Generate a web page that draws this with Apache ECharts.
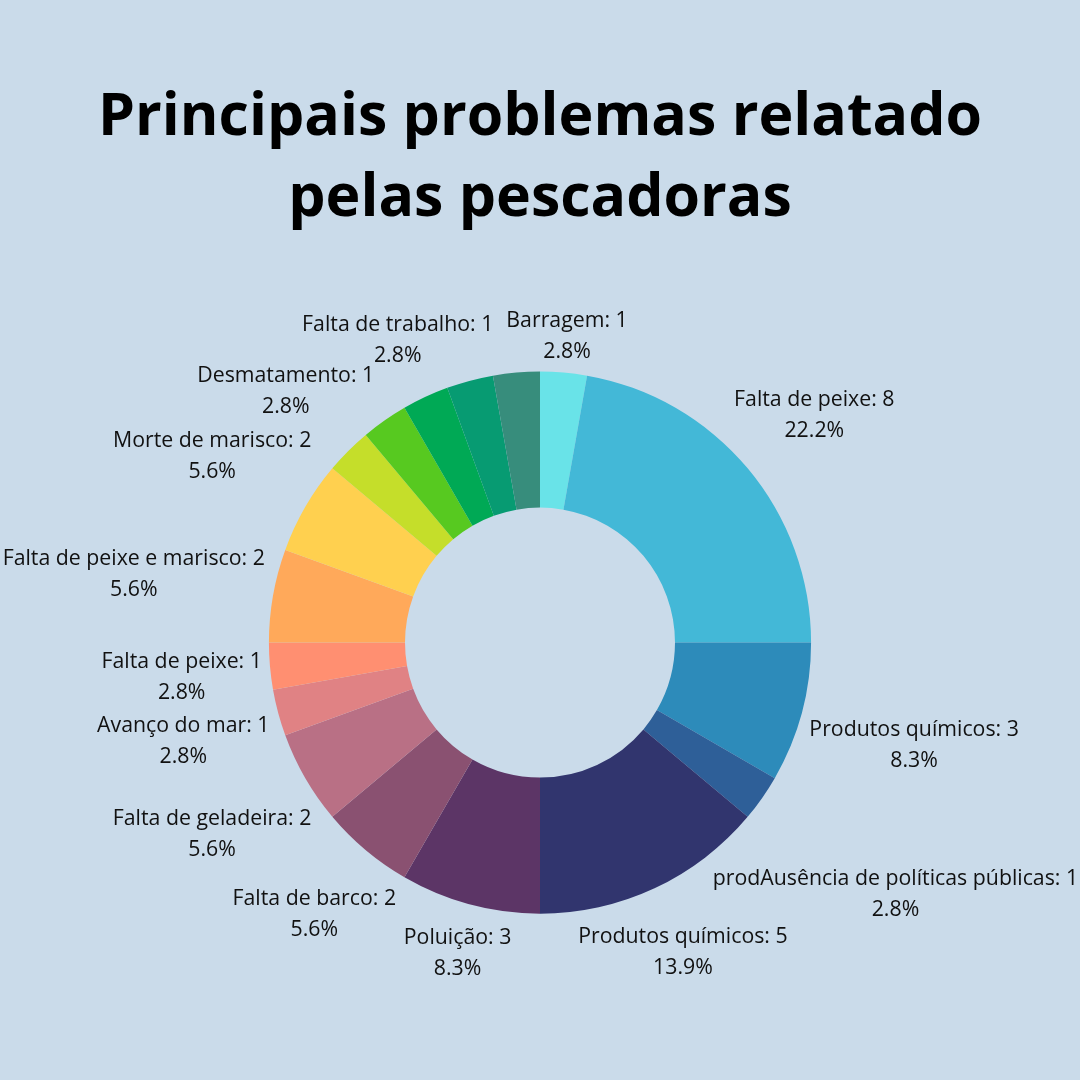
<!DOCTYPE html>
<html><head><meta charset="utf-8">
<script src="https://cdn.jsdelivr.net/npm/echarts@6/dist/echarts.min.js"></script>
<style>html,body{margin:0;padding:0;background:#cadbea}#c{width:1080px;height:1080px}</style>
</head><body><div id="c"></div>
<script>
const titleText = 'Principais problemas relatado\npelas pescadoras';
const categories = ['Barragem', 'Falta de peixe', 'Produtos químicos', 'prodAusência de políticas públicas',
  'Produtos químicos', 'Poluição', 'Falta de barco', 'Falta de geladeira', 'Avanço do mar', 'Falta de peixe',
  'Falta de peixe e marisco', 'Morte de marisco', 'Desmatamento', 'Sem rótulo A', 'Falta de trabalho',
  'Sem rótulo B', 'Sem rótulo C'];
const values = [1, 8, 3, 1, 5, 3, 2, 2, 1, 1, 2, 2, 1, 1, 1, 1, 1];
const labelVisible = [true, true, true, true, true, true, true, true, true, true, true, true, true, false, true, false, false];
const colors = ['#69e3e8', '#43b8d7', '#2d8bba', '#2e5f98', '#31356e', '#5c3566', '#8a5171', '#b97085',
  '#e08284', '#ff8f71', '#ffa95a', '#ffd04f', '#c5de2a', '#57c920', '#00a955', '#079b72', '#378d7c'];

const CENTER_Y = 0.595;
const GAP = 7;
const TEXT_SHIFT_Y = 3;
const chart = echarts.init(document.getElementById('c'), null, {renderer: 'canvas'});

function clamp(v, a, b) { return Math.max(a, Math.min(b, v)); }
function placeLabel(params) {
  const pts = params.labelLinePoints;
  if (!pts || !pts.length) return {};
  const cx = chart.getWidth() * 0.5, cy = chart.getHeight() * CENTER_Y;
  const dx0 = pts[0][0] - cx, dy0 = pts[0][1] - cy;
  const R = Math.hypot(dx0, dy0);
  const ux = dx0 / R, uy = dy0 / R;
  const w = params.labelRect.width / 2, h = params.labelRect.height / 2;
  const target = R + GAP;
  const f = function (d) {
    const bx = d * ux, by = d * uy;
    return Math.hypot(clamp(0, bx - w, bx + w), clamp(0, by - h, by + h));
  };
  let lo = 0, hi = 3000;
  for (let i = 0; i < 80; i++) { const m = (lo + hi) / 2; if (f(m) < target) lo = m; else hi = m; }
  const d = (lo + hi) / 2;
  return {x: cx + d * ux, y: cy + d * uy + TEXT_SHIFT_Y, align: 'center', verticalAlign: 'middle'};
}

const total = values.reduce((a, b) => a + b, 0);
const data = categories.map((n, i) => ({
  name: n, value: values[i],
  itemStyle: {color: colors[i]},
  label: {show: labelVisible[i]},
  labelLine: {show: labelVisible[i]}
}));

chart.setOption({
  backgroundColor: '#cadbea',
  animation: false,
  title: {
    text: titleText, left: 'center', top: 73,
    textStyle: {fontFamily: 'Open Sans', fontWeight: 'bold', fontSize: 59, lineHeight: 81, color: '#000'}
  },
  series: [{
    type: 'pie',
    center: ['50%', (CENTER_Y * 100) + '%'],
    radius: ['25%', '50.2%'],
    startAngle: 90,
    clockwise: true,
    avoidLabelOverlap: false,
    percentPrecision: 4,
    emphasis: {disabled: true},
    itemStyle: {borderWidth: 0},
    label: {
      position: 'outside',
      fontFamily: 'Open Sans', fontSize: 21.3, lineHeight: 31, color: '#111',
      formatter: function (p) {
        return p.name + ': ' + p.value + '\n' + (p.value / total * 100).toFixed(1) + '%';
      }
    },
    labelLine: {show: true, length: 10, length2: 0, lineStyle: {opacity: 0}},
    labelLayout: placeLabel,
    data: data
  }]
});
</script></body></html>
